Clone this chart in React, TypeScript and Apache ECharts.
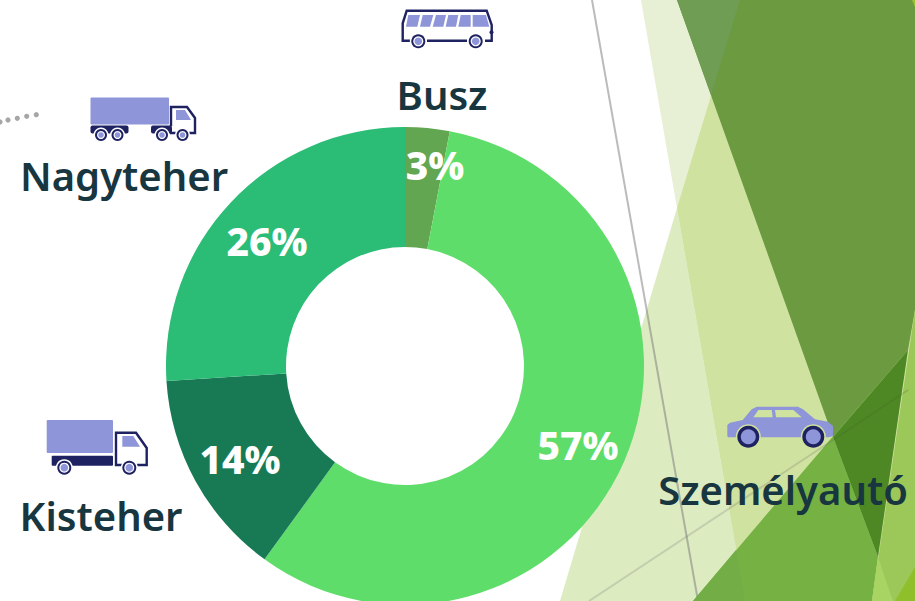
import React, { useEffect, useRef } from "react";
import * as echarts from "echarts";

const categories = ["Busz", "Személyautó", "Kisteher", "Nagyteher"];
const shares = [3, 57, 14, 26];
const sliceColors = ["#62a651", "#5fdd6a", "#187a55", "#2bbc76"];
const percentCenters = [[435, 164], [578, 444], [240, 458], [267, 240]];
const nameCenters = [[442, 94], [783, 489], [101, 515], [124, 175]];

const LILAC = "#8e95d8";
const NAVY = "#1f2260";
const FONT = '"Noto Sans", sans-serif';

const poly = (points: number[][], fill: string) => ({ type: "polygon", shape: { points }, style: { fill }, silent: true });
const line = (x1: number, y1: number, x2: number, y2: number, stroke: string, lineWidth = 2) => ({
  type: "line", shape: { x1, y1, x2, y2 }, style: { stroke, lineWidth, fill: "none" }, silent: true,
});
const outline = (points: number[][], lineWidth = 2.4) => ({
  type: "polyline", shape: { points }, style: { stroke: NAVY, lineWidth, fill: "none" }, silent: true,
});
const circle = (cx: number, cy: number, r: number, fill: string) => ({ type: "circle", shape: { cx, cy, r }, style: { fill }, silent: true });
const rect = (x: number, y: number, width: number, height: number, fill: string, r = 0) => ({
  type: "rect", shape: { x, y, width, height, r }, style: { fill }, silent: true,
});
const wheel = (cx: number, cy: number, r: number, gap = "#ffffff") => [
  circle(cx, cy, r + 1.5, gap),
  circle(cx, cy, r, NAVY),
  circle(cx, cy, r - 2, gap),
  circle(cx, cy, r - 3.2, LILAC),
];

const background = [
  poly([[641, 0], [915, 0], [915, 601], [745, 601]], "#e7f0d4"),
  poly([[677, 208], [560, 601], [745, 601]], "#ddebc1"),
  poly([[677, 208], [740, 0], [915, 0], [915, 601], [745, 601]], "#d0e2a0"),
  line(592, 0, 698, 601, "rgba(120,120,120,0.5)"),
  poly([[677, 0], [915, 0], [915, 310], [908, 350], [833, 437]], "#6b9a40"),
  poly([[677, 0], [740, 0], [711, 95]], "#6f9d54"),
  poly([[908, 348], [693, 601], [872, 601], [878, 557], [833, 437]], "#76b144"),
  poly([[736, 550], [693, 601], [745, 601]], "#73ad45"),
  poly([[915, 310], [872, 601], [915, 601]], "#9cc759"),
  poly([[878, 557], [872, 601], [893, 601]], "#a8d464"),
  poly([[915, 567], [895, 601], [915, 601]], "#8fc02c"),
  poly([[912, 0], [915, 0], [915, 7]], "#9cc02c"),
  poly([[908, 350], [833, 437], [878, 557]], "#4e8825"),
  line(589, 601, 833, 440, "rgba(90,90,90,0.2)"),
  line(833, 440, 908, 390, "rgba(60,90,30,0.18)"),
];

const dots = [[0, 122], [8, 120], [17.3, 118.3], [26.7, 116.3], [36.3, 114.7]].map(([x, y]) => circle(x, y, 2.6, "#a6a6a6"));

const bigTruck = [
  rect(90.5, 97.5, 78.5, 27, LILAC, 1),
  rect(90.5, 125.5, 38, 8, NAVY, 2),
  rect(151, 125.5, 21, 8, NAVY, 2),
  outline([[171, 126], [171, 107], [187, 107], [195, 118], [195, 133], [170, 133]]),
  poly([[176, 110], [185, 110], [191, 120], [176, 120]], LILAC),
  ...wheel(101, 135, 6),
  ...wheel(117.5, 135, 6),
  ...wheel(162, 135, 6),
  ...wheel(182.5, 135, 6),
];

const smallTruck = [
  rect(46.7, 420, 66.3, 33, LILAC, 1),
  rect(51.7, 455.7, 61.3, 10, NAVY, 1),
  outline([[122, 465], [116, 465], [116, 432.7], [136, 432.7], [146.7, 448], [146.7, 465], [137, 465]]),
  poly([[122.3, 436], [133.3, 436], [140, 446.7], [122.3, 446.7]], LILAC),
  ...wheel(64.3, 467.7, 7),
  ...wheel(129.3, 467.7, 7),
];

const bus = [
  outline([[410, 40.7], [402.7, 40.7], [402.7, 23.3], [406.7, 10.7], [486.7, 10.7], [491.7, 25], [491.7, 40.7], [485, 40.7]]),
  line(427, 40.7, 467, 40.7, NAVY, 2.4),
  poly([[408.3, 15], [420, 15], [417.3, 26.7], [406, 26.7]], LILAC),
  poly([[422.7, 15], [433.3, 15], [430, 26.7], [420, 26.7]], LILAC),
  poly([[436, 15], [446, 15], [443.3, 26.7], [432.7, 26.7]], LILAC),
  poly([[448.3, 15], [458.3, 15], [456, 26.7], [445.7, 26.7]], LILAC),
  poly([[460.7, 15], [470.7, 15], [470.7, 26.7], [458.3, 26.7]], LILAC),
  poly([[472.7, 15], [486, 15], [489.3, 26.7], [472.7, 26.7]], LILAC),
  circle(491.5, 32.3, 2, NAVY),
  ...wheel(418.3, 41.3, 7),
  ...wheel(475.7, 41.3, 7),
];

const PALE = "#d0e2a0";
const car = [
  poly([[727.3, 425], [730, 422.7], [742.7, 420], [751.7, 409.3], [756.7, 406.7], [798, 406.7], [803, 409.3], [815, 419.3], [828, 421.7], [833, 426], [833, 436], [829, 437.3], [728, 437.3], [727.3, 436]], LILAC),
  poly([[753.3, 417.3], [758.3, 410], [771.7, 410], [772.7, 417.3]], PALE),
  poly([[775, 410], [793.3, 410], [801.7, 417.3], [776, 417.3]], PALE),
  circle(748.3, 436.7, 12.5, PALE),
  circle(813.3, 436.7, 12.5, PALE),
  circle(748.3, 436.7, 11, NAVY),
  circle(813.3, 436.7, 11, NAVY),
  circle(748.3, 436.7, 7.5, LILAC),
  circle(813.3, 436.7, 7.5, LILAC),
];

const names = categories.map((text, i) => ({
  type: "text",
  x: nameCenters[i][0],
  y: nameCenters[i][1],
  silent: true,
  style: { text, fill: "#17363f", font: `600 40px ${FONT}`, textAlign: "center", textVerticalAlign: "middle" },
}));

export default function App() {
  const ref = useRef<HTMLDivElement>(null);
  useEffect(() => {
    const chart = echarts.init(ref.current!, null, { renderer: "svg" });
    chart.setOption({
      animation: false,
      backgroundColor: "#ffffff",
      graphic: { elements: [...background, ...dots, ...bigTruck, ...smallTruck, ...bus, ...car, ...names] },
      series: [
        {
          type: "pie",
          center: [405, 366],
          radius: [119, 239],
          startAngle: 90,
          clockwise: true,
          silent: true,
          data: categories.map((name, i) => ({ name, value: shares[i], itemStyle: { color: sliceColors[i] } })),
          label: {
            show: true,
            position: "inside",
            formatter: (p: any) => `${p.value}%`,
            color: "#ffffff",
            fontFamily: FONT,
            fontWeight: 800,
            fontSize: 39,
          },
          labelLine: { show: false },
          labelLayout: (p: any) => ({
            x: percentCenters[p.dataIndex][0],
            y: percentCenters[p.dataIndex][1],
            align: "center",
            verticalAlign: "middle",
          }),
        },
      ],
    });
    return () => chart.dispose();
  }, []);
  return <div ref={ref} style={{ position: "fixed", left: 0, top: 0, width: 915, height: 601, overflow: "hidden" }} />;
}
